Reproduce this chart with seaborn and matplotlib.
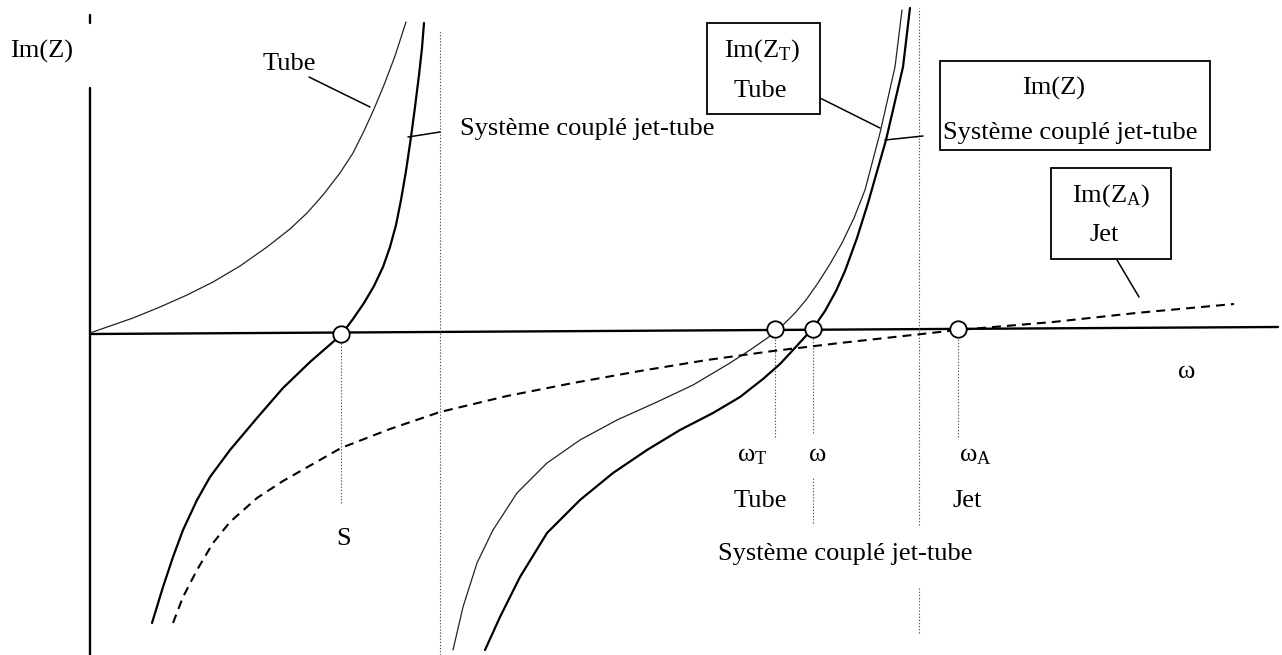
import matplotlib
matplotlib.use("Agg")
import matplotlib.pyplot as plt
from matplotlib.patches import Rectangle
import seaborn as sns

# ---- Curves: angular frequency (omega) vs. imaginary part of the impedance ----
# Tube impedance Im(Z_T), first branch (starts at the origin)
tube1_w = [0, 43, 70, 97, 123, 150, 177, 200, 217, 233, 250, 263, 274, 284, 294, 305, 316]
tube1_im = [0, 15, 26, 38, 51, 67, 86, 104, 120, 138, 160, 180, 202, 224, 248, 277, 311]

# Tube impedance Im(Z_T), second branch
tube2_w = [363, 373, 387, 403, 427, 457, 490, 527, 567, 603, 640, 663, 683, 694, 705, 716, 728,
           740, 752, 764, 775, 790, 805, 812]
tube2_im = [-317, -274, -230, -197, -160, -130, -107, -87, -69, -52, -30, -15, -1, 9, 20, 33, 50,
            69, 90, 115, 143, 200, 266, 323]

# Coupled jet-tube system Im(Z), first branch
coup1_w = [62, 73, 83, 93, 107, 120, 140, 167, 193, 220, 251, 263, 274, 284, 293, 300, 306, 311,
           316, 321, 325, 329, 332, 334]
coup1_im = [-290, -254, -224, -197, -167, -144, -117, -85, -55, -29, -2, 14, 30, 47, 66, 86, 108,
            133, 162, 196, 226, 258, 285, 310]

# Coupled jet-tube system Im(Z), second branch
coup2_w = [395, 410, 430, 457, 490, 523, 557, 590, 623, 650, 673, 690, 703, 714, 724, 735, 746,
           755, 767, 778, 796, 813, 820]
coup2_im = [-317, -284, -244, -200, -167, -140, -117, -97, -80, -64, -46, -31, -17, -5, 6, 22, 42,
            62, 95, 130, 193, 266, 325]

# Jet impedance Im(Z_A)
jet_w = [83, 93, 107, 123, 140, 167, 193, 251, 300, 350, 417, 483, 550, 617, 683, 750, 868, 963,
         1046, 1144]
jet_im = [-290, -264, -237, -210, -189, -165, -148, -115, -96, -79, -63, -50, -38, -27, -18, -10,
          3, 11, 20, 29]

# Frequency axis and its zero crossings (S, omega_T, omega, omega_A)
axis_w = [0, 1188]
axis_im = [-1, 6]
root_w = [251, 685, 723, 868]
root_im = [-1, 4, 4, 4]

# Asymptotes of the tube and coupled branches
asym_w = [350, 829]

# ---- Style ----
sns.set_theme(style="white")
plt.rcParams["font.family"] = ["Liberation Serif", "DejaVu Serif"]
plt.rcParams["mathtext.fontset"] = "custom"
plt.rcParams["mathtext.rm"] = "Liberation Serif"
plt.rcParams["mathtext.it"] = "Liberation Serif:italic"
FS = 19

fig = plt.figure(figsize=(12.82, 6.55), dpi=100)
ax = fig.add_axes([0, 0, 1, 1])
ax.set_xlim(-90, 1192)
ax.set_ylim(-322, 333)
ax.set_axis_off()


def seg(xs, ys, **kw):
    sns.lineplot(x=xs, y=ys, sort=False, estimator=None, ax=ax, legend=False, **kw)


# Axes of the diagram
seg(axis_w, axis_im, color="black", lw=1.7)
seg([0, 0], [-322, 245], color="black", lw=1.7)
seg([0, 0], [310, 318], color="black", lw=1.7)

# Asymptotes (fine dotted)
dot = dict(color="#555555", lw=0.8, linestyle=(0, (1.2, 1.6)))
seg([asym_w[0], asym_w[0]], [-322, 303], **dot)
seg([asym_w[1], asym_w[1]], [-192, 325], **dot)
seg([asym_w[1], asym_w[1]], [-300, -255], **dot)

# Drop lines from the crossings
seg([root_w[0], root_w[0]], [-170, -10], **dot)
seg([root_w[1], root_w[1]], [-104, -4], **dot)
seg([root_w[2], root_w[2]], [-100, -4], **dot)
seg([root_w[2], root_w[2]], [-190, -145], **dot)
seg([root_w[3], root_w[3]], [-104, -4], **dot)

# Curves
seg(tube1_w, tube1_im, color="#222222", lw=0.9)
seg(tube2_w, tube2_im, color="#222222", lw=0.9)
seg(coup1_w, coup1_im, color="black", lw=1.6)
seg(coup2_w, coup2_im, color="black", lw=1.6)
seg(jet_w, jet_im, color="black", lw=1.5, linestyle=(0, (4.3, 2.9)))

# Crossing markers
sns.scatterplot(x=root_w, y=root_im, ax=ax, s=140, color="white",
                edgecolor="black", linewidth=1.3, zorder=5, legend=False)

# Leader lines
lead = dict(color="black", lw=1.1)
seg([219, 280], [256, 226], **lead)
seg([318, 350], [196, 201], **lead)
seg([730, 790], [235, 205], **lead)
seg([795, 833], [193, 197], **lead)
seg([1027, 1049], [73, 36], **lead)

# Label frames
for (x0, x1, y0, y1) in [(617, 730, 219, 310), (850, 1120, 183, 272), (961, 1081, 74, 165)]:
    ax.add_patch(Rectangle((x0, y0), x1 - x0, y1 - y0, fill=False,
                           edgecolor="black", lw=1.3, zorder=4))

t = dict(fontsize=FS, color="black", va="baseline")
ax.text(-48, 275, "Im(Z)", ha="center", **t)
ax.text(199, 263, "Tube", ha="center", **t)
ax.text(370, 198, "Système couplé jet-tube", ha="left", **t)

ax.text(672, 276, r"Im(Z$_{\mathrm{T}}$)", ha="center", **t)
ax.text(670, 236, "Tube", ha="center", **t)
ax.text(964, 238, "Im(Z)", ha="center", **t)
ax.text(853, 194, "Système couplé jet-tube", ha="left", **t)
ax.text(1021, 131, r"Im(Z$_{\mathrm{A}}$)", ha="center", **t)
ax.text(1014, 92, "Jet", ha="center", **t)

ax.text(254, -212, "S", ha="center", **t)
ax.text(647, -128, r"ω$_{\mathrm{T}}$", ha="left", **t)
ax.text(728, -128, "ω", ha="center", **t)
ax.text(869, -128, r"ω$_{\mathrm{A}}$", ha="left", **t)
ax.text(670, -174, "Tube", ha="center", **t)
ax.text(877, -174, "Jet", ha="center", **t)
ax.text(628, -227, "Système couplé jet-tube", ha="left", **t)
ax.text(1097, -45, "ω", ha="center", **t)

fig.savefig("out.png", dpi=100, facecolor="white")
